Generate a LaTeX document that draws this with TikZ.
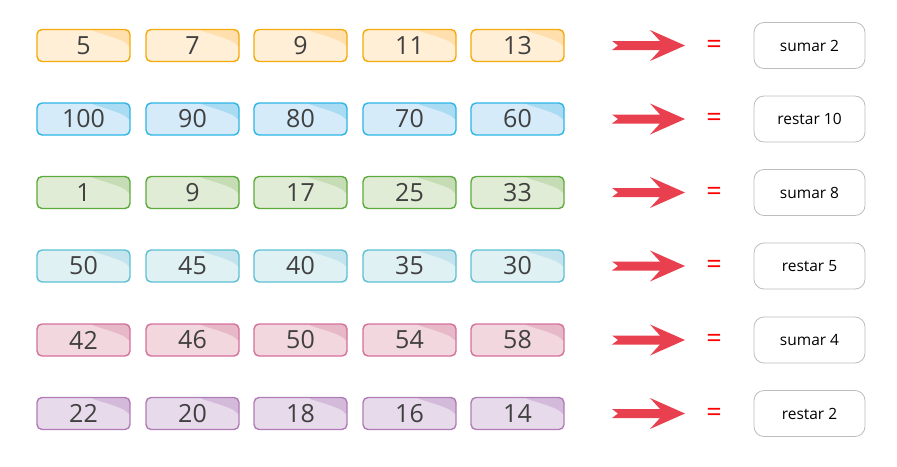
\documentclass[tikz,border=0pt]{standalone}
\usepackage{fontspec}
\setmainfont{Open Sans}
\usetikzlibrary{calc}
\definecolor{oB}{HTML}{F5AA0A}\definecolor{oF}{HTML}{FFEFD6}\definecolor{oK}{HTML}{FFDFAE}
\definecolor{bB}{HTML}{2DB5E6}\definecolor{bF}{HTML}{D5EBF9}\definecolor{bK}{HTML}{A9DBF2}
\definecolor{gB}{HTML}{5DAA3C}\definecolor{gF}{HTML}{E1ECD6}\definecolor{gK}{HTML}{C5DCB5}
\definecolor{tB}{HTML}{5CC0D4}\definecolor{tF}{HTML}{E0F1F4}\definecolor{tK}{HTML}{C3E4EC}
\definecolor{pB}{HTML}{D4709A}\definecolor{pF}{HTML}{F2D7DF}\definecolor{pK}{HTML}{E6B8C8}
\definecolor{vB}{HTML}{B17CB6}\definecolor{vF}{HTML}{E7DAEB}\definecolor{vK}{HTML}{D3BADB}
\definecolor{arrowred}{HTML}{E8404E}
\definecolor{numgray}{HTML}{404040}
\definecolor{resborder}{HTML}{BDBDBD}
\tikzset{
  numbox/.style n args={3}{draw=#1, fill=#2, line width=1.4pt, rounded corners=5pt,
    minimum width=93pt, minimum height=32pt, inner sep=0pt,
    font=\fontsize{25}{25}\selectfont, text=numgray,
    path picture={\fill[#3] ([xshift=6pt]path picture bounding box.north)
      .. controls ([xshift=-30pt,yshift=-4pt]path picture bounding box.north east)
      and ([xshift=-6pt,yshift=-10pt]path picture bounding box.north east)
      .. ([yshift=-19pt]path picture bounding box.north east)
      -- ([xshift=2pt,yshift=2pt]path picture bounding box.north east) -- cycle;}},
  resbox/.style={draw=resborder, fill=white, line width=0.8pt, rounded corners=10pt,
    minimum width=111pt, minimum height=46pt, inner sep=0pt,
    font=\fontsize{15.5}{15.5}\selectfont, text=black},
  eqsign/.style={text=red, font=\fontsize{27}{27}\selectfont, inner sep=0pt},
  bigarrow/.style={fill=arrowred, draw=none}
}
\begin{document}
\begin{tikzpicture}[x=1pt,y=-1pt]
\useasboundingbox (0,0) rectangle (897,466);
\foreach \r/\y/\B/\F/\K/\res/\a/\b/\c/\d/\e in {
  1/45.5/oB/oF/oK/sumar 2/5/7/9/11/13,
  2/119/bB/bF/bK/restar 10/100/90/80/70/60,
  3/192.5/gB/gF/gK/sumar 8/1/9/17/25/33,
  4/266/tB/tF/tK/restar 5/50/45/40/35/30,
  5/340/pB/pF/pK/sumar 4/42/46/50/54/58,
  6/413.5/vB/vF/vK/restar 2/22/20/18/16/14}{
  \node[numbox={\B}{\F}{\K}] (n\r a) at (83.5,\y) {\a};
  \node[numbox={\B}{\F}{\K}] (n\r b) at (192.5,\y) {\b};
  \node[numbox={\B}{\F}{\K}] (n\r c) at (300.5,\y) {\c};
  \node[numbox={\B}{\F}{\K}] (n\r d) at (409.5,\y) {\d};
  \node[numbox={\B}{\F}{\K}] (n\r e) at (517.5,\y) {\e};
  \coordinate (ar\r) at (612,\y);
  \fill[bigarrow] ($(ar\r)+(0,-4.5)$) -- ($(ar\r)+(48,-4.5)$) -- ($(ar\r)+(38,-15.5)$)
    -- ($(ar\r)+(73,0)$) -- ($(ar\r)+(38,15.5)$) -- ($(ar\r)+(48,4.5)$)
    -- ($(ar\r)+(0,4.5)$) -- ($(ar\r)+(6,0)$) -- cycle;
  \node[eqsign] (eq\r) at (714,\y+1) {=};
  \node[resbox] (res\r) at (809.5,\y) {\res};
}
\end{tikzpicture}
\end{document}
